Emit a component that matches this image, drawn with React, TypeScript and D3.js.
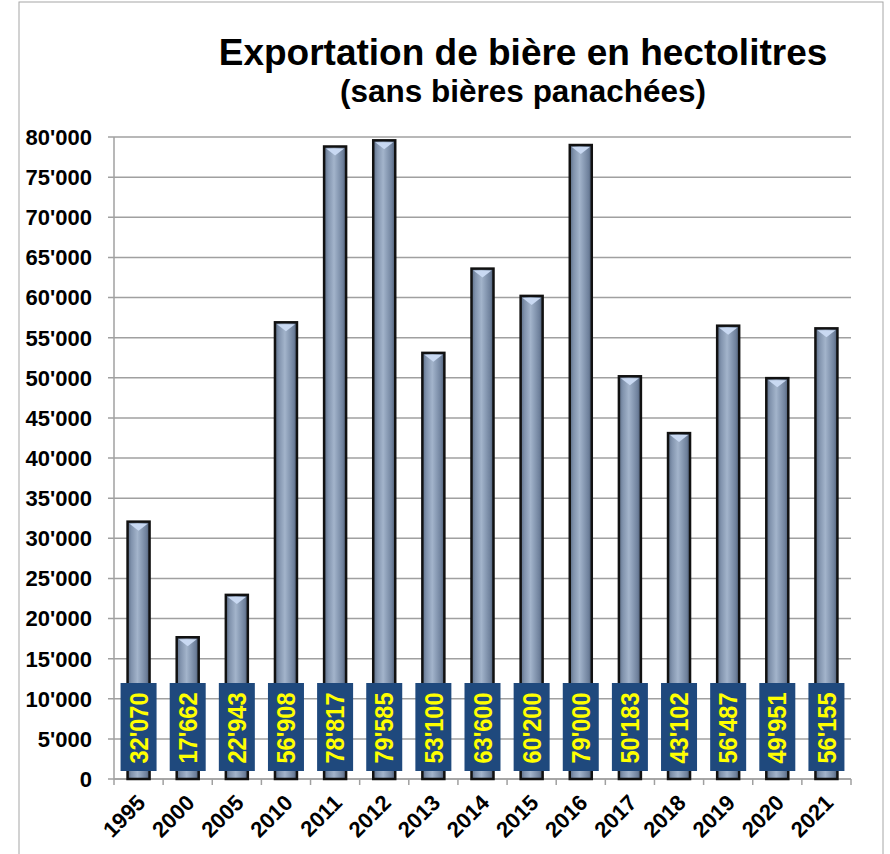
import { useMemo } from "react";
import * as d3 from "d3";

const WIDTH = 890;
const HEIGHT = 854;
const MARGIN = { top: 137, right: 39, bottom: 75, left: 114 };

const years = ["1995", "2000", "2005", "2010", "2011", "2012", "2013", "2014", "2015", "2016", "2017", "2018", "2019", "2020", "2021"];
const exports = [32070, 17662, 22943, 56908, 78817, 79585, 53100, 63600, 60200, 79000, 50183, 43102, 56487, 49951, 56155];
const yTicks = [0, 5000, 10000, 15000, 20000, 25000, 30000, 35000, 40000, 45000, 50000, 55000, 60000, 65000, 70000, 75000, 80000];

const fmt = (v: number) => {
  const s = String(Math.round(v));
  return s.replace(/\B(?=(\d{3})+(?!\d))/g, "'");
};

const FONT = "Liberation Sans, Arial, sans-serif";

export default function App() {
  const boundsW = WIDTH - MARGIN.left - MARGIN.right;
  const bottomY = 779 - MARGIN.top;

  const x = useMemo(() => d3.scaleBand().domain(years).range([0, boundsW]).paddingInner(0).paddingOuter(0), [boundsW]);
  const y = useMemo(() => d3.scaleLinear().domain([0, 80000]).range([bottomY, 0]), [bottomY]);

  const barW = 22;
  const band = x.bandwidth();

  return (
    <svg width={WIDTH} height={HEIGHT} style={{ position: "absolute", left: 0, top: 0, display: "block" }} fontFamily={FONT}>
      <defs>
        <linearGradient id="barGrad" x1="0" x2="1" y1="0" y2="0">
          <stop offset="0%" stopColor="#5b6d87" />
          <stop offset="18%" stopColor="#8193ad" />
          <stop offset="45%" stopColor="#a3b4cb" />
          <stop offset="60%" stopColor="#8fa1ba" />
          <stop offset="85%" stopColor="#6f819c" />
          <stop offset="100%" stopColor="#4a5a72" />
        </linearGradient>
      </defs>
      <rect x={0} y={0} width={WIDTH} height={HEIGHT} fill="#fff" />
      <rect x={19} y={2} width={864} height={870} fill="none" stroke="#a6a6a6" strokeWidth={1} />

      <text x={523} y={65} textAnchor="middle" fontSize={37} fontWeight="bold" fill="#000">
        Exportation de bière en hectolitres
      </text>
      <text x={523} y={102} textAnchor="middle" fontSize={31.5} fontWeight="bold" fill="#000">
        (sans bières panachées)
      </text>

      <g transform={`translate(${MARGIN.left},${MARGIN.top})`}>
        {yTicks.map((t) => (
          <g key={t}>
            <line x1={-6} x2={boundsW} y1={y(t)} y2={y(t)} stroke="#a0a0a0" strokeWidth={1.5} />
            <text x={-22} y={y(t)} dy="0.36em" textAnchor="end" fontSize={22} fontWeight="bold" fill="#000">
              {fmt(t)}
            </text>
          </g>
        ))}
        <line x1={0} x2={0} y1={0} y2={bottomY} stroke="#a0a0a0" strokeWidth={1.5} />
        <line x1={0} x2={boundsW} y1={bottomY} y2={bottomY} stroke="#a0a0a0" strokeWidth={1.5} />
        {[...years.map((yr) => x(yr) as number), boundsW].map((px, i) => (
          <line key={i} x1={px} x2={px} y1={bottomY} y2={bottomY + 6} stroke="#a0a0a0" strokeWidth={1.5} />
        ))}

        {years.map((yr, i) => {
          const cx = (x(yr) as number) + band / 2;
          const top = y(exports[i]);
          const h = bottomY - top;
          return (
            <g key={yr}>
              <rect x={cx - barW / 2} y={top} width={barW} height={h} fill="url(#barGrad)" stroke="#111" strokeWidth={2.5} />
              <path
                d={`M${cx - barW / 2 + 2},${top + 2} L${cx + barW / 2 - 2},${top + 2} L${cx},${top + 9} Z`}
                fill="#c9d9f2"
              />
            </g>
          );
        })}

        {years.map((yr, i) => {
          const cx = (x(yr) as number) + band / 2;
          return (
            <g key={"lbl" + yr}>
              <rect x={cx - 18} y={683 - MARGIN.top} width={36} height={88} fill="#1f497d" />
              <text
                transform={`translate(${cx},${728 - MARGIN.top}) rotate(-90)`}
                textAnchor="middle"
                dy="0.36em"
                fontSize={25.5}
                fontWeight="bold"
                fill="#ffff00"
                textLength={71}
                lengthAdjust="spacingAndGlyphs"
              >
                {fmt(exports[i])}
              </text>
            </g>
          );
        })}

        {years.map((yr) => {
          const cx = (x(yr) as number) + band / 2;
          return (
            <text
              key={"x" + yr}
              transform={`translate(${cx - 3},${bottomY + 14}) rotate(-45)`}
              textAnchor="end"
              dy="0.72em"
              fontSize={22}
              fontWeight="bold"
              fill="#000"
            >
              {yr}
            </text>
          );
        })}
      </g>
    </svg>
  );
}
